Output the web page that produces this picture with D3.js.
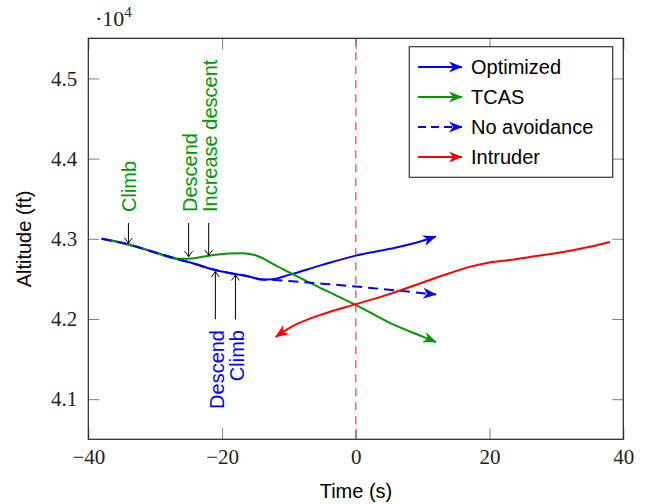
<!DOCTYPE html>
<html>
<head>
<meta charset="utf-8">
<script src="https://cdn.jsdelivr.net/npm/d3@7"></script>
<style>
body{margin:0;background:#fff;}
svg{display:block;}
</style>
</head>
<body>
<svg id="canvas" width="646" height="504"></svg>
<script>
// values (time in s, altitude in ft)
let timeOpt=[-38,-34,-30,-27,-24,-21,-18,-16,-14,-12.5,-10,-5,0,5,10,12];
let altOpt=[43000,42930,42830,42755,42685,42610,42560,42530,42493,42497,42550,42675,42790,42872,42975,43030];

let timeTcas=[-38,-34,-30,-27,-25,-22,-19,-17,-15,-12,-9,-5,0,5,10,12];
let altTcas=[43000,42930,42830,42755,42752,42790,42818,42820,42795,42670,42540,42375,42175,41955,41780,41712];

let timeNo=[-38,-34,-30,-27,-24,-21,-18,-16,-14,-12,-8,-5,0,5,10,12];
let altNo=[43000,42930,42830,42755,42685,42610,42560,42530,42493,42485,42460,42440,42405,42365,42322,42305];

let timeIntr=[38,35,31,27,23,20,17,14,10,5,0,-5,-9,-12];
let altIntr=[42960,42900,42835,42785,42735,42705,42650,42570,42455,42310,42185,42060,41930,41776];

let seriesNames=['Optimized','TCAS','No avoidance','Intruder'];

let greenNotes=['Climb','Descend','Increase descent'];
let greenNoteTimes=[-34,-25,-22];
let greenNoteAlts=[42930,42763,42779];

let blueNotes=['Descend','Climb'];
let blueNoteTimes=[-21,-18];
let blueNoteAlts=[42605,42562];

let xTicks=[-40,-20,0,20,40];
let yTicks=[41000,42000,43000,44000,45000];

const BLUE='#0000ff', GREEN='#009900', RED='#ff0000';
const SANS='"Liberation Sans", Arial, sans-serif';
const SERIF='"Liberation Serif", "Times New Roman", serif';

let svg=d3.select('#canvas');
let x=d3.scaleLinear().domain([-40,40]).range([88.3,623.3]);
let y=d3.scaleLinear().domain([40500,45500]).range([439.3,38.3]);

// arrow markers
let defs=svg.append('defs');
[['blue',BLUE],['green',GREEN],['red',RED]].forEach(([n,c])=>{
    defs.append('marker')
        .attr('id','arr-'+n)
        .attr('markerUnits','userSpaceOnUse')
        .attr('viewBox','-15 -8 17 16')
        .attr('markerWidth',17).attr('markerHeight',16)
        .attr('refX',0).attr('refY',0)
        .attr('orient','auto')
        .append('path')
        .attr('d','M-13,-5.5L0.5,0L-13,5.5L-9,0Z')
        .attr('fill',c);
});
defs.append('marker')
    .attr('id','arr-black')
    .attr('markerUnits','userSpaceOnUse')
    .attr('viewBox','-8 -6 10 12')
    .attr('markerWidth',10).attr('markerHeight',12)
    .attr('refX',0).attr('refY',0)
    .attr('orient','auto')
    .append('path')
    .attr('d','M-5.5,-4Q-2,-1 0,0Q-2,1 -5.5,4')
    .attr('fill','none').attr('stroke','#000').attr('stroke-width',1);

// ticks (inside, on all four sides)
let fmtY=d=>d3.format('.1f')(d/10000);
let gx=svg.append('g').attr('transform','translate(0,439.3)')
    .call(d3.axisBottom(x).tickValues(xTicks).tickSizeInner(-11).tickSizeOuter(0).tickPadding(10));
let gxt=svg.append('g').attr('transform','translate(0,38.3)')
    .call(d3.axisTop(x).tickValues(xTicks).tickSizeInner(-11).tickSizeOuter(0).tickFormat(''));
let gy=svg.append('g').attr('transform','translate(88.3,0)')
    .call(d3.axisLeft(y).tickValues(yTicks).tickSizeInner(-11).tickSizeOuter(0).tickPadding(11).tickFormat(fmtY));
let gyr=svg.append('g').attr('transform','translate(623.3,0)')
    .call(d3.axisRight(y).tickValues(yTicks).tickSizeInner(-11).tickSizeOuter(0).tickFormat(''));
[gx,gxt,gy,gyr].forEach(g=>{
    g.select('.domain').remove();
    g.selectAll('line').attr('stroke','#808080').attr('stroke-width',1);
    g.selectAll('text').attr('font-family',SERIF).attr('font-size',21).attr('fill','#222');
});

// red dashed line at t=0
svg.append('line')
    .attr('x1',x(0)).attr('x2',x(0))
    .attr('y1',y(45500)).attr('y2',y(40500))
    .attr('stroke','#ff4545').attr('stroke-width',1.3)
    .attr('stroke-dasharray','8,6');

let line=d3.line().x(d=>x(d[0])).y(d=>y(d[1])).curve(d3.curveMonotoneX);
let lineAny=d3.line().x(d=>x(d[0])).y(d=>y(d[1])).curve(d3.curveCatmullRom.alpha(0.5));

function drawSeries(ts,as,color,mk,dash,gen){
    svg.append('path')
        .attr('d',gen(ts.map((t,i)=>[t,as[i]])))
        .attr('fill','none')
        .attr('stroke',color)
        .attr('stroke-width',2)
        .attr('stroke-dasharray',dash)
        .attr('marker-end','url(#arr-'+mk+')');
}
drawSeries(timeOpt,altOpt,BLUE,'blue',null,line);
drawSeries(timeTcas,altTcas,GREEN,'green',null,line);
drawSeries(timeNo,altNo,BLUE,'blue','10,6',line);
drawSeries(timeIntr,altIntr,RED,'red',null,lineAny);

// annotations
greenNotes.forEach((txt,i)=>{
    let px=x(greenNoteTimes[i]);
    svg.append('line')
        .attr('x1',px).attr('x2',px)
        .attr('y1',223).attr('y2',y(greenNoteAlts[i])-1)
        .attr('stroke','#000').attr('stroke-width',1)
        .attr('marker-end','url(#arr-black)');
    svg.append('text')
        .attr('transform','translate('+(px+8)+',212) rotate(-90)')
        .attr('font-family',SANS).attr('font-size',20)
        .attr('fill',GREEN)
        .text(txt);
});
blueNotes.forEach((txt,i)=>{
    let px=x(blueNoteTimes[i]);
    svg.append('line')
        .attr('x1',px).attr('x2',px)
        .attr('y1',319.3).attr('y2',y(blueNoteAlts[i])+1)
        .attr('stroke','#000').attr('stroke-width',1)
        .attr('marker-end','url(#arr-black)');
    svg.append('text')
        .attr('transform','translate('+(px+8.5)+',330) rotate(-90)')
        .attr('text-anchor','end')
        .attr('font-family',SANS).attr('font-size',20)
        .attr('fill',BLUE)
        .text(txt);
});

// frame
svg.append('rect')
    .attr('x',88.3).attr('y',38.3)
    .attr('width',535).attr('height',401)
    .attr('fill','none').attr('stroke','#222').attr('stroke-width',1.2);

// legend
let legColors=[BLUE,GREEN,BLUE,RED];
let legMk=['blue','green','blue','red'];
let legDash=[null,null,'8,5',null];
let leg=svg.append('g');
leg.append('rect')
    .attr('x',409.3).attr('y',46.7)
    .attr('width',203.4).attr('height',130.6)
    .attr('fill','#fff').attr('stroke','#333').attr('stroke-width',1.2);
seriesNames.forEach((nm,i)=>{
    let ly=67+i*30;
    leg.append('line')
        .attr('x1',418).attr('x2',462).attr('y1',ly).attr('y2',ly)
        .attr('stroke',legColors[i]).attr('stroke-width',2)
        .attr('stroke-dasharray',legDash[i])
        .attr('marker-end','url(#arr-'+legMk[i]+')');
    leg.append('text')
        .attr('x',471).attr('y',ly+6.5)
        .attr('font-family',SANS).attr('font-size',20)
        .attr('fill','#000')
        .text(nm);
});

// axis labels
svg.append('text')
    .attr('x',356).attr('y',498.3)
    .attr('text-anchor','middle')
    .attr('font-family',SANS).attr('font-size',20)
    .text('Time (s)');
svg.append('text')
    .attr('transform','translate(31,239) rotate(-90)')
    .attr('text-anchor','middle')
    .attr('font-family',SANS).attr('font-size',20)
    .text('Altitude (ft)');

// scale factor
let sf=svg.append('text')
    .attr('x',95).attr('y',26)
    .style('font-family',SERIF).style('font-size','22px').attr('fill','#222');
sf.append('tspan').text('\u00b710');
sf.append('tspan').attr('dy',-9).style('font-size','15px').text('4');
</script>
</body>
</html>
